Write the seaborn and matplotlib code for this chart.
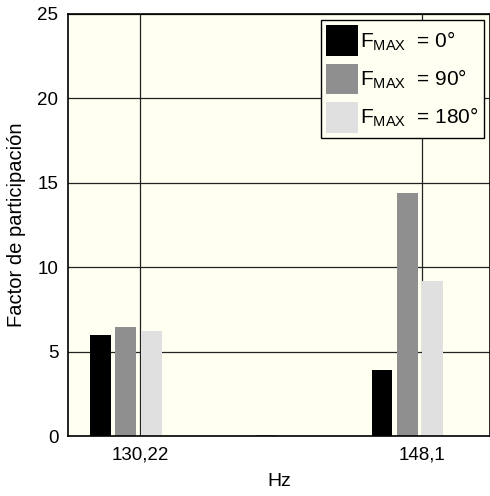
import pandas as pd
import matplotlib
matplotlib.use("Agg")
import matplotlib.pyplot as plt
import seaborn as sns

# ========== Data ==========
grupos = ["130,22", "medio", "148,1"]
tick_labels = ["130,22", "148,1"]
fases = ["0", "90", "180"]
valores_0 = [6.0, 0.0, 3.93]
valores_90 = [6.48, 0.07, 14.4]
valores_180 = [6.24, 0.07, 9.2]
colores = ["#000000", "#8f8f8f", "#e0e0e0"]

rows = []
for fase, vals in zip(fases, [valores_0, valores_90, valores_180]):
    for g, v in zip(grupos, vals):
        rows.append({"grupo": g, "fase": fase, "valor": v})
df = pd.DataFrame(rows)

# ========== Style ==========
sns.set_style("white")
plt.rcParams["font.family"] = ["Liberation Sans", "DejaVu Sans"]
plt.rcParams["mathtext.fontset"] = "custom"
plt.rcParams["mathtext.rm"] = "Liberation Sans"
plt.rcParams["mathtext.it"] = "Liberation Sans:italic"
for k in ["text.color", "axes.labelcolor", "xtick.color", "ytick.color"]:
    plt.rcParams[k] = "black"

fig = plt.figure(figsize=(4.9, 4.96), dpi=100)
ax = fig.add_axes([0.1388, 0.12, 0.8622, 0.8518])
ax.set_facecolor("#fffff2")

sns.barplot(data=df, x="grupo", y="valor", hue="fase", palette=colores,
            width=0.543, gap=0.18, saturation=1, order=grupos, hue_order=fases,
            ax=ax, edgecolor="none", linewidth=0)

ax.set_xlim(-0.411, 2.59)
ax.set_ylim(0, 25)
ax.set_yticks([0, 5, 10, 15, 20, 25])
ax.set_xticks([0.1, 2.1])
ax.set_xticklabels(tick_labels)
ax.tick_params(axis="both", labelsize=13.5, length=0, pad=7)

ax.set_axisbelow(True)
ax.grid(True, color="#222222", linewidth=0.9)

for s in ax.spines.values():
    s.set_color("black")
    s.set_linewidth(1.2)

ax.set_xlabel("Hz", fontsize=14, labelpad=7)
ax.set_ylabel("Factor de participación", fontsize=14.5, labelpad=8)

handles, _ = ax.get_legend_handles_labels()
labels = [r"$\mathrm{F_{MAX}}$  = 0°", r"$\mathrm{F_{MAX}}$  = 90°", r"$\mathrm{F_{MAX}}$  = 180°"]
leg = ax.legend(handles, labels, loc="upper right", fontsize=15,
                handlelength=1.55, handleheight=1.9, handletextpad=0.1,
                labelspacing=0.35, borderpad=0.25, borderaxespad=0.3,
                fancybox=False, framealpha=1, facecolor="#fffff2",
                edgecolor="black")
leg.get_frame().set_linewidth(1.0)

fig.savefig("out.png", dpi=100)
